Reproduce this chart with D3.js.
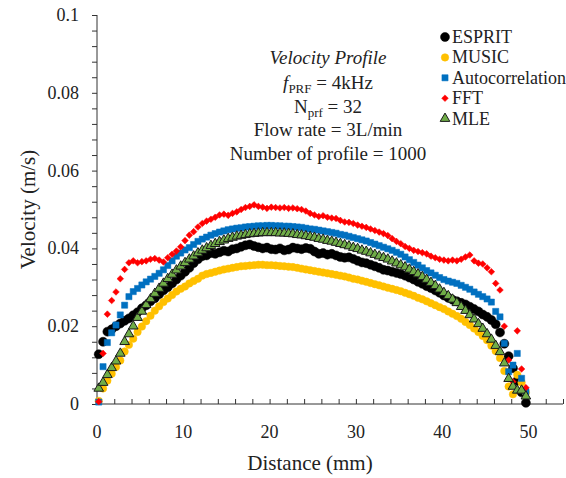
<!DOCTYPE html>
<html>
<head>
<meta charset="utf-8">
<script src="https://cdn.jsdelivr.net/npm/d3@7"></script>
<style>
  body { margin: 0; background: #fff; }
  svg text { font-family: "Times New Roman", "Liberation Serif", "DejaVu Serif", serif; fill: #222; }
</style>
</head>
<body>
<div id="chart"></div>
<script>
// data
var distance = [
  0.2, 0.7, 1.2, 1.7, 2.2, 2.7, 3.2, 3.7, 4.2, 4.7, 5.2, 5.7, 6.2, 6.7, 7.2, 7.7, 8.2, 8.7, 9.2, 9.7,
  10.2, 10.7, 11.2, 11.7, 12.2, 12.7, 13.2, 13.7, 14.2, 14.7, 15.2, 15.7, 16.2, 16.7, 17.2, 17.7, 18.2, 18.7, 19.2, 19.7,
  20.2, 20.7, 21.2, 21.7, 22.2, 22.7, 23.2, 23.7, 24.2, 24.7, 25.2, 25.7, 26.2, 26.7, 27.2, 27.7, 28.2, 28.7, 29.2, 29.7,
  30.2, 30.7, 31.2, 31.7, 32.2, 32.7, 33.2, 33.7, 34.2, 34.7, 35.2, 35.7, 36.2, 36.7, 37.2, 37.7, 38.2, 38.7, 39.2, 39.7,
  40.2, 40.7, 41.2, 41.7, 42.2, 42.7, 43.2, 43.7, 44.2, 44.7, 45.2, 45.7, 46.2, 46.7, 47.2, 47.7, 48.2, 48.7, 49.2, 49.7
];

var esprit = [
  0.0128, 0.0160, 0.0186, 0.0192, 0.0200, 0.0207, 0.0214, 0.0220, 0.0228, 0.0236, 0.0246, 0.0254, 0.0264, 0.0272, 0.0282, 0.0292, 0.0300, 0.0310, 0.0320, 0.0330,
  0.0340, 0.0350, 0.0362, 0.0372, 0.0380, 0.0382, 0.0388, 0.0386, 0.0390, 0.0394, 0.0392, 0.0398, 0.0400, 0.0404, 0.0408, 0.0410, 0.0406, 0.0403, 0.0400, 0.0402,
  0.0398, 0.0397, 0.0400, 0.0395, 0.0397, 0.0402, 0.0400, 0.0398, 0.0401, 0.0399, 0.0392, 0.0386, 0.0388, 0.0384, 0.0386, 0.0382, 0.0378, 0.0376, 0.0377, 0.0373,
  0.0368, 0.0364, 0.0362, 0.0358, 0.0354, 0.0350, 0.0345, 0.0343, 0.0340, 0.0337, 0.0334, 0.0330, 0.0325, 0.0320, 0.0314, 0.0309, 0.0303, 0.0298, 0.0292, 0.0286,
  0.0279, 0.0273, 0.0268, 0.0264, 0.0260, 0.0256, 0.0250, 0.0244, 0.0238, 0.0230, 0.0224, 0.0216, 0.0205, 0.0184, 0.0155, 0.0123, 0.0092, 0.0060, 0.0030, 0.0003
];

var music = [
  0.0008, 0.0040, 0.0060, 0.0078, 0.0095, 0.0112, 0.0135, 0.0152, 0.0168, 0.0185, 0.0199, 0.0213, 0.0227, 0.0240, 0.0251, 0.0262, 0.0271, 0.0280, 0.0289, 0.0296,
  0.0302, 0.0310, 0.0316, 0.0322, 0.0330, 0.0334, 0.0337, 0.0340, 0.0343, 0.0346, 0.0348, 0.0350, 0.0352, 0.0354, 0.0355, 0.0356, 0.0357, 0.0358, 0.0358, 0.0357,
  0.0357, 0.0356, 0.0355, 0.0354, 0.0353, 0.0352, 0.0350, 0.0348, 0.0346, 0.0344, 0.0342, 0.0340, 0.0338, 0.0336, 0.0334, 0.0332, 0.0330, 0.0328, 0.0325, 0.0322,
  0.0320, 0.0317, 0.0314, 0.0311, 0.0308, 0.0305, 0.0302, 0.0299, 0.0296, 0.0293, 0.0290, 0.0286, 0.0282, 0.0278, 0.0273, 0.0269, 0.0264, 0.0259, 0.0254, 0.0249,
  0.0244, 0.0238, 0.0232, 0.0226, 0.0219, 0.0211, 0.0203, 0.0194, 0.0185, 0.0175, 0.0164, 0.0150, 0.0136, 0.0118, 0.0085, 0.0045, 0.0025, 0.0075, 0.0055, 0.0030
];

var autocorr = [
  0.0005, 0.0096, 0.0158, 0.0183, 0.0203, 0.0229, 0.0254, 0.0276, 0.0289, 0.0297, 0.0306, 0.0314, 0.0321, 0.0328, 0.0336, 0.0345, 0.0356, 0.0368, 0.0380, 0.0388,
  0.0396, 0.0402, 0.0410, 0.0418, 0.0424, 0.0429, 0.0434, 0.0438, 0.0442, 0.0445, 0.0448, 0.0450, 0.0452, 0.0453, 0.0455, 0.0456, 0.0457, 0.0458, 0.0458, 0.0459,
  0.0459, 0.0458, 0.0458, 0.0457, 0.0457, 0.0456, 0.0455, 0.0454, 0.0452, 0.0450, 0.0449, 0.0447, 0.0445, 0.0443, 0.0441, 0.0439, 0.0436, 0.0434, 0.0431, 0.0428,
  0.0425, 0.0422, 0.0419, 0.0415, 0.0411, 0.0407, 0.0403, 0.0399, 0.0395, 0.0390, 0.0385, 0.0378, 0.0371, 0.0364, 0.0357, 0.0350, 0.0343, 0.0337, 0.0331, 0.0325,
  0.0320, 0.0316, 0.0313, 0.0310, 0.0305, 0.0300, 0.0295, 0.0288, 0.0282, 0.0276, 0.0270, 0.0262, 0.0238, 0.0224, 0.0156, 0.0083, 0.0100, 0.0130, 0.0066, 0.0032
];

var fft = [
  0.0006, 0.0130, 0.0231, 0.0266, 0.0288, 0.0322, 0.0346, 0.0363, 0.0368, 0.0363, 0.0366, 0.0368, 0.0372, 0.0374, 0.0370, 0.0365, 0.0376, 0.0385, 0.0393, 0.0404,
  0.0420, 0.0434, 0.0443, 0.0455, 0.0464, 0.0470, 0.0475, 0.0480, 0.0486, 0.0488, 0.0485, 0.0490, 0.0494, 0.0500, 0.0505, 0.0508, 0.0512, 0.0508, 0.0506, 0.0503,
  0.0506, 0.0505, 0.0504, 0.0505, 0.0503, 0.0504, 0.0502, 0.0500, 0.0496, 0.0490, 0.0486, 0.0482, 0.0484, 0.0480, 0.0478, 0.0477, 0.0472, 0.0468, 0.0467, 0.0464,
  0.0460, 0.0457, 0.0454, 0.0450, 0.0446, 0.0442, 0.0438, 0.0433, 0.0425, 0.0418, 0.0412, 0.0405, 0.0400, 0.0395, 0.0392, 0.0389, 0.0386, 0.0380, 0.0376, 0.0372,
  0.0370, 0.0368, 0.0370, 0.0368, 0.0372, 0.0378, 0.0383, 0.0368, 0.0362, 0.0360, 0.0350, 0.0340, 0.0310, 0.0293, 0.0200, 0.0113, 0.0057, 0.0188, 0.0090, 0.0042
];

var mle = [
  0.0040, 0.0055, 0.0075, 0.0093, 0.0110, 0.0130, 0.0160, 0.0180, 0.0200, 0.0222, 0.0238, 0.0255, 0.0270, 0.0284, 0.0297, 0.0310, 0.0322, 0.0333, 0.0344, 0.0354,
  0.0363, 0.0372, 0.0380, 0.0388, 0.0395, 0.0401, 0.0407, 0.0412, 0.0417, 0.0421, 0.0425, 0.0428, 0.0431, 0.0433, 0.0435, 0.0437, 0.0438, 0.0439, 0.0440, 0.0440,
  0.0440, 0.0440, 0.0439, 0.0439, 0.0438, 0.0437, 0.0435, 0.0434, 0.0432, 0.0430, 0.0428, 0.0425, 0.0423, 0.0420, 0.0418, 0.0415, 0.0412, 0.0409, 0.0406, 0.0402,
  0.0399, 0.0395, 0.0392, 0.0388, 0.0384, 0.0380, 0.0376, 0.0372, 0.0367, 0.0362, 0.0357, 0.0352, 0.0346, 0.0340, 0.0334, 0.0327, 0.0320, 0.0312, 0.0304, 0.0295,
  0.0286, 0.0278, 0.0269, 0.0260, 0.0250, 0.0240, 0.0229, 0.0218, 0.0206, 0.0194, 0.0180, 0.0166, 0.0150, 0.0134, 0.0105, 0.0065, 0.0045, 0.0035, 0.0035, 0.0020
];

var seriesNames = ["ESPRIT", "MUSIC", "Autocorrelation", "FFT", "MLE"];
var seriesValues = [esprit, music, autocorr, fft, mle];
var xTicks = [0, 10, 20, 30, 40, 50];
var yTicks = [0, 0.02, 0.04, 0.06, 0.08, 0.1];

function drawChart(){
  var W = 566, H = 478;
  var margin = {top: 15, right: 3, bottom: 74, left: 97};
  var width = W - margin.left - margin.right, height = H - margin.top - margin.bottom;

  var svg = d3.select("#chart")
      .append("svg")
      .attr("width", W)
      .attr("height", H)
      .attr("font-family", "'Times New Roman', 'Liberation Serif', serif")
      .append("g")
      .attr("transform", "translate(" + margin.left + "," + margin.top + ")");

  var x = d3.scaleLinear().domain([0, 54]).range([0, width]);
  var y = d3.scaleLinear().domain([0, 0.1]).range([height, 0]);

  // y axis: outward ticks every 0.004
  var yAxis = svg.append("g")
      .call(d3.axisLeft(y).tickValues(d3.range(0, 0.1001, 0.004)).tickSize(5).tickFormat(""));
  yAxis.select(".domain").attr("d", "M0," + height + "V0").attr("stroke", "#333");
  yAxis.selectAll(".tick line").attr("stroke", "#333");

  svg.append("g").selectAll("text")
      .data(yTicks)
      .enter().append("text")
      .attr("x", -18)
      .attr("y", d => y(d) + 6)
      .attr("text-anchor", "end")
      .attr("font-size", 18)
      .text(d => d3.format("~g")(d));

  // x axis: inward ticks every 2 mm
  var xAxis = svg.append("g")
      .attr("transform", "translate(0," + height + ")")
      .call(d3.axisTop(x).tickValues(d3.range(0, 54.1, 2)).tickSize(5).tickFormat(""));
  xAxis.select(".domain").attr("d", "M0,0H" + width).attr("stroke", "#333");
  xAxis.selectAll(".tick line").attr("stroke", "#333");

  svg.append("g").selectAll("text")
      .data(xTicks)
      .enter().append("text")
      .attr("x", d => x(d))
      .attr("y", height + 34)
      .attr("text-anchor", "middle")
      .attr("font-size", 18)
      .text(d => d);

  // axis titles
  svg.append("text")
      .attr("x", 213)
      .attr("y", height + 66)
      .attr("text-anchor", "middle")
      .attr("font-size", 21)
      .text("Distance (mm)");

  svg.append("text")
      .attr("transform", "rotate(-90)")
      .attr("x", -(y(0.05)))
      .attr("y", -62)
      .attr("text-anchor", "middle")
      .attr("font-size", 21)
      .text("Velocity (m/s)");

  // markers
  var styles = [
    {fill: "#000000", stroke: "#000000", shape: d3.symbolCircle, size: 64, rot: 0},
    {fill: "#FFC000", stroke: "#FFC000", shape: d3.symbolCircle, size: 44, rot: 0},
    {fill: "#0070C0", stroke: "#0070C0", shape: d3.symbolSquare, size: 38, rot: 0},
    {fill: "#FF0000", stroke: "#FF0000", shape: d3.symbolSquare, size: 22, rot: 45},
    {fill: "#70AD47", stroke: "#1a1a1a", shape: d3.symbolTriangle, size: 40, rot: 0}
  ];

  for (var i = 0; i < seriesValues.length; i++){
    var st = styles[i];
    svg.append("g").selectAll("path")
        .data(seriesValues[i])
        .enter().append("path")
        .attr("d", d3.symbol().type(st.shape).size(st.size))
        .attr("transform", function(d, j){
          return "translate(" + x(distance[j]) + "," + y(d) + ") rotate(" + st.rot + ")";
        })
        .attr("fill", st.fill)
        .attr("stroke", st.stroke)
        .attr("stroke-width", i == 4 ? 1 : 0.5);
  }

  // annotation
  var note = svg.append("text")
      .attr("text-anchor", "middle")
      .attr("font-size", 19);
  note.append("tspan").attr("x", 231).attr("y", 49).attr("font-style", "italic").text("Velocity Profile");
  var l2 = note.append("tspan").attr("x", 231).attr("y", 74);
  l2.append("tspan").attr("font-style", "italic").text("f");
  l2.append("tspan").attr("font-size", 13).attr("dy", 4).text("PRF");
  l2.append("tspan").attr("dy", -4).text(" = 4kHz");
  var l3 = note.append("tspan").attr("x", 231).attr("y", 98);
  l3.append("tspan").text("N");
  l3.append("tspan").attr("font-size", 13).attr("dy", 4).text("prf");
  l3.append("tspan").attr("dy", -4).text(" = 32");
  note.append("tspan").attr("x", 231).attr("y", 121).text("Flow rate = 3L/min");
  note.append("tspan").attr("x", 231).attr("y", 145).text("Number of profile = 1000");

  // legend
  var legend = svg.append("g")
      .attr("class", "legend")
      .attr("transform", "translate(348,22)");

  legend.selectAll("path")
      .data(seriesNames)
      .enter().append("path")
      .attr("d", (d, i) => d3.symbol().type(styles[i].shape).size(styles[i].size)())
      .attr("transform", (d, i) => "translate(0," + (i * 20.4) + ") rotate(" + styles[i].rot + ")")
      .attr("fill", (d, i) => styles[i].fill)
      .attr("stroke", (d, i) => styles[i].stroke)
      .attr("stroke-width", (d, i) => i == 4 ? 1 : 0.5);

  legend.selectAll("text")
      .data(seriesNames)
      .enter().append("text")
      .attr("x", 7)
      .attr("y", (d, i) => i * 20.4 + 6)
      .attr("font-size", 18)
      .text(d => d);
}

drawChart();
</script>
</body>
</html>
